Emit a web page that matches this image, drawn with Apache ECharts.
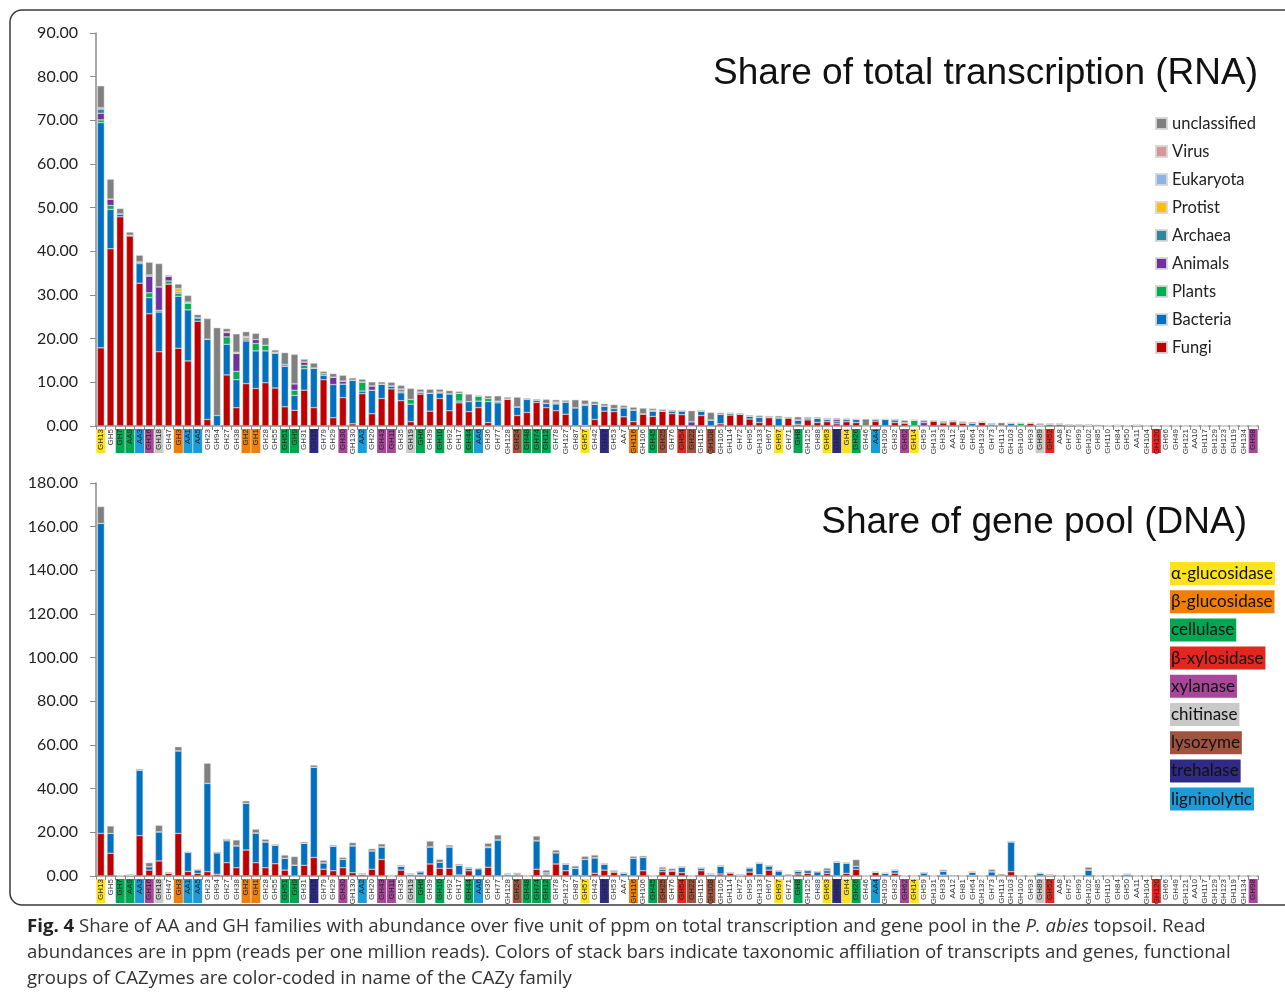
<!DOCTYPE html>
<html><head><meta charset="utf-8">
<script src="https://cdn.jsdelivr.net/npm/echarts@6/dist/echarts.min.js"></script>
<style>html,body{margin:0;padding:0;background:#fff}#c{width:1285px;height:1000px}</style>
</head><body><div id="c"></div>
<script>
const categories = ['GH13','GH5','GH7','AA9','AA3','GH16','GH18','GH47','GH3','AA1',
'AA5','GH23','GH94','GH27','GH38','GH2','GH1','GH28','GH55','GH51',
'GH9','GH31','GH15','GH79','GH29','GH30','GH130','AA2','GH20','GH43',
'GH11','GH35','GH19','GH6','GH39','GH10','GH92','GH17','GH44','AA6',
'GH36','GH77','GH128','GH24','GH48','GH74','GH12','GH78','GH127','GH87',
'GH57','GH42','GH37','GH53','AA7','GH116','GH106','GH45','GH25','GH76',
'GH54','GH22','GH115','GH108','GH105','GH114','GH72','GH95','GH133','GH67',
'GH97','GH71','GH8','GH125','GH88','GH63','GH65','GH4','GH26','GH46',
'AA4','GH109','GH32','GH62','GH14','GH59','GH131','GH33','AA12','GH81',
'GH64','GH132','GH73','GH113','GH103','GH100','GH93','GH89','GH52','AA8',
'GH75','GH99','GH102','GH85','GH110','GH84','GH50','AA11','GH104','GH120',
'GH66','GH49','GH121','AA10','GH117','GH129','GH123','GH119','GH134','GH98'];

const yTicksRNA = {min: 0, max: 90, interval: 10};
const yTicksDNA = {min: 0, max: 180, interval: 20};

// functional groups (label colour code)
const groupAlphaGlucosidase = ['GH13','GH57','GH97','GH63','GH4','GH14'];
const groupBetaGlucosidase = ['GH3','GH2','GH1','GH116'];
const groupCellulase = ['GH7','AA9','GH51','GH9','GH6','GH10','GH44','GH48','GH74','GH12','GH45','GH8','GH26'];
const groupBetaXylosidase = ['GH54','GH52','GH120'];
const groupXylanase = ['GH16','GH30','GH43','GH11','GH62','GH98'];
const groupChitinase = ['GH18','GH19','GH89'];
const groupLysozyme = ['GH24','GH25','GH22','GH108'];
const groupTrehalase = ['GH15','GH37','GH65'];
const groupLigninolytic = ['AA3','AA1','AA5','AA2','AA6','AA4'];
const groupNames = ['α-glucosidase','β-glucosidase','cellulase','β-xylosidase','xylanase','chitinase','lysozyme','trehalase','ligninolytic'];

// RNA (share of total transcription), ppm
const rnaFungi = [17.9,40.6,47.9,43.5,32.7,25.7,17.0,32.5,17.8,14.9, 24.0,1.5,0,11.7,4.2,9.7,8.6,9.9,8.7,4.4, 3.6,8.2,4.2,10.6,1.9,6.5,0.5,7.4,2.8,6.3, 8.5,5.8,1.0,7.3,3.4,6.3,3.5,5.3,3.3,4.2, 0.8,0,6.2,2.4,3.1,5.4,4.2,3.5,2.7,0, 0.1,1.5,3.4,3.3,2.1,1.0,2.8,2.2,3.4,2.8, 2.6,0,2.4,0,0.5,2.5,2.7,1.6,0.8,1.9, 0,1.9,0.4,1.4,0.8,1.0,0.5,1.0,0.8,0, 1.1,0,0.8,0.75,0,0,1.2,0.7,1.0,0.75, 0,0.85,0,0,0,0,0.6,0,0.45,0.45, 0.3,0,0,0,0,0,0,0.15,0,0.06, 0,0,0,0,0,0,0,0,0,0];
const rnaBacteria = [51.6,9.0,0.7,0.2,4.5,3.7,9.1,0,11.9,11.7, 0.8,18.4,2.4,7.0,6.4,9.8,8.6,7.3,8.0,9.3, 3.4,4.9,9.1,1.0,7.6,3.1,10.0,0.6,5.4,3.3, 0.7,1.8,4.0,0.5,4.1,1.3,3.9,0.4,2.3,1.5, 4.8,5.3,0,2.0,3.0,0.6,1.0,1.6,2.8,4.2, 4.6,3.5,1.2,0.7,2.1,2.7,0,1.2,0,0.7, 0.9,0,1.0,1.4,2.2,0.4,0,0.7,1.2,0.2, 1.9,0,1.0,0.5,1.0,0.5,0.5,0.5,0.7,0, 0.4,1.5,0.65,0,0,0,0,0.3,0,0, 0.6,0,0.5,0,0.6,0,0,0.25,0,0, 0,0.3,0.15,0,0,0,0,0,0,0, 0,0,0,0,0,0,0,0,0,0];
const rnaPlants = [0.6,0.9,0,0,0,1.1,0.4,0.7,0.7,1.5, 0,0,0,1.7,1.9,0,1.7,1.3,0,0, 1.2,0.8,0,0.4,0,0,0,2.1,0,0, 0,0.4,1.1,0,0,0,0,1.8,0,1.2, 0.7,0.4,0,0,0,0,0,0,0,0, 0,0,0,0,0,0,0,0,0,0, 0,0,0,0,0,0,0,0,0,0, 0,0,0,0,0,0,0,0,0,0, 0,0,0,0,1.3,0,0,0,0,0, 0,0,0,0,0,0.6,0,0,0,0, 0,0,0,0,0,0,0,0,0,0, 0,0,0,0,0,0,0,0,0,0];
const rnaAnimals = [1.5,1.5,0,0,0.2,3.8,5.4,1.1,0.3,0, 0,0,0,1.0,4.1,0.4,0.9,0,0,0, 1.5,0.8,0,0,1.7,0.7,0,0,1.0,0, 0,0.5,0,0,0,0,0,0,0,0, 0,0,0,0,0,0,0,0,0,0, 0,0,0,0,0,0,0,0.2,0,0, 0,1.0,0,0,0,0,0,0,0,0, 0,0,0,0,0,0.1,0.5,0,0,0, 0,0,0,0,0,0.8,0,0,0.1,0, 0,0,0,0,0,0,0,0,0,0, 0,0,0,0,0,0.15,0,0,0,0, 0,0,0,0,0,0,0,0,0,0];
const rnaArchaea = [1.0,0,0,0,0.2,0.3,0,0,0,0.3, 0,0,0,0,0,0.3,0,0,0.2,0.4, 0,0,0,0,0,0,0,0,0,0, 0,0,0,0,0,0.2,0,0,0,0, 0,0,0,0,0,0,0,0,0,0, 0.3,0,0,0,0,0,0,0,0,0, 0,0,0,0,0,0,0,0,0,0, 0,0,0,0,0,0,0,0,0,0, 0,0,0,0,0,0,0,0,0,0, 0,0,0,0,0,0,0,0,0,0, 0,0,0,0,0,0,0,0,0,0, 0,0,0,0,0,0,0,0,0,0];
const rnaProtist = [0,0,0,0,0,0,0,0,0.8,0, 0,0,0,0.2,0.3,0.3,0,0,0,0, 0,0,0,0,0,0,0,0,0,0, 0,0,0,0,0,0,0,0,0,0, 0,0,0,0,0,0,0,0.4,0,0, 0,0,0,0,0,0,0,0,0,0, 0,0,0,0,0,0,0,0,0,0, 0,0,0,0,0,0,0,0,0,0, 0,0,0,0,0,0,0,0,0,0, 0,0,0,0,0,0,0,0,0,0, 0,0,0,0,0,0,0,0,0,0, 0,0,0,0,0,0,0,0,0,0];
const rnaEukaryota = [0.3,0,0,0,0,0,0,0,0,0, 0,0,0,0,0,0,0,0,0,0, 0,0,0,0,0,0,0,0,0,0, 0,0,0,0,0,0,0,0,0,0, 0,0,0,0,0,0,0,0,0,0, 0,0,0,0,0,0,0,0,0,0, 0,0,0,0,0,0,0,0,0,0, 0,0,0,0,0,0,0,0,0,0, 0,0,0,0,0,0,0,0,0,0, 0,0,0,0,0,0,0,0,0,0, 0,0,0.15,0,0,0,0,0,0,0, 0,0,0,0,0,0,0,0,0,0];
const rnaVirus = new Array(120).fill(0);
const rnaUnclassified = [5.0,4.5,1.2,0.7,1.5,2.9,5.3,0.2,1.0,1.5, 0.7,4.7,20.1,0.7,4.2,1.1,1.4,1.7,0.5,2.7, 6.7,0.6,1.1,0.5,0.8,1.3,0.5,0.6,0.9,0.5, 0.8,0.8,2.5,0.6,0.9,0.6,0.7,0.4,1.7,0.1, 0.6,1.2,0.4,2.2,0.2,0.2,0.9,0.5,0.4,1.8, 0.9,0.6,0.5,0.9,0.5,0.6,1.3,0.4,0.4,0.2, 0,2.5,0,1.7,0.35,0,0.2,0.2,0.4,0.2, 0.4,0.2,0.7,0.2,0.2,0.2,0.3,0.2,0.1,1.6, 0,0,0,0.55,0,0.5,0,0.2,0.1,0.3, 0.3,0,0.2,0.76,0,0,0,0.35,0,0, 0,0,0,0.3,0.15,0,0.15,0,0.08,0, 0.04,0.04,0.04,0.04,0.04,0.04,0.04,0.04,0.04,0.04];

// DNA (share of gene pool), ppm
const dnaFungi = [19.5,10.4,0.1,0.5,18.5,2.7,6.9,1.2,19.5,2.1, 1.2,2.0,0.8,6.1,3.8,11.9,6.1,3.8,5.6,2.7, 0,4.9,8.5,3.1,2.4,3.8,1.5,0.9,3.1,7.6, 0,2.7,0,0.5,5.5,3.5,3.5,0.5,2.4,0, 4.0,0,0,0.5,0,3.1,0.6,5.5,2.4,0, 0,1.2,2.7,1.7,0,0,2.4,0,2.0,2.4, 1.5,0,2.4,0,0.9,1.5,0.5,1.8,0.6,2.7, 0,0,0.9,1.2,0,1.2,0,1.2,3.1,0, 1.7,0,1.3,0,0,0,0,0.4,0,0, 0.3,0,0,0,2.0,0,0,0,0.5,0, 0,0,0,0,0,0,0,0,0,0, 0,0,0,0,0,0,0,0,0,0];
const dnaBacteria = [142.0,9.1,0.1,0,30.0,1.6,13.4,0,37.9,8.7, 1.7,40.4,9.9,10.1,10.1,21.4,13.7,11.9,8.6,5.4, 5.0,10.1,41.3,3.0,11.3,3.8,12.4,0,8.5,5.8, 0,1.9,0.8,1.5,7.9,2.8,9.9,4.5,1.1,3.4, 9.0,16.6,0.8,0.6,0,13.1,0.9,5.2,3.1,3.5, 7.6,7.2,2.8,0.7,1.4,8.1,6.1,0,1.2,0, 2.6,0,1.3,0.8,3.6,0,0,2.0,5.2,2.0, 2.4,0,1.4,1.3,2.0,1.3,6.3,4.8,1.3,0, 0,1.2,1.3,0,0,1.5,0,1.9,0,0, 1.4,0,2.0,0,13.7,0,0,1.2,0,0, 0,0,2.8,0,0,0,0.8,0,0,0, 0,0,0,0,0,0,0,0,0,0];
const dnaPlants = [0,0,0,0,0,0,0,0,0,0, 0,0,0,0,0,0,0,0,0,0, 0,0,0,0,0,0,0,0,0,0, 0,0,0,0,0,0,0,0,0,0, 0.4,0,0,0,0,0,0,0,0,0, 0,0,0,0,0,0,0,0,0,0, 0,0,0,0,0,0,0,0,0,0, 0,0,0,0,0,0,0,0,0,0, 0,0,0,0,0,0,0,0,0,0, 0,0,0,0,0,0,0,0,0,0, 0,0,0,0,0,0,0,0,0,0, 0,0,0,0,0,0,0,0,0,0];
const dnaAnimals = [0,0,0,0,0,0,0,0,0,0, 0,0,0,0,0,0,0,0,0,0, 0,0,0,0,0,0,0,0,0,0, 0.2,0,0,0,0,0,0,0,0,0, 0,0,0,0,0,0,0,0,0,0, 0,0,0,0,0,0,0,0,0,0, 0,0,0,0,0,0,0,0,0,0, 0,0,0,0,0,0,0,0,0,0, 0,0,0,0,0,0,0,0,0,0, 0,0,0,0,0,0,0,0,0,0, 0,0,0,0,0,0,0,0,0,0, 0,0,0,0,0,0,0,0,0,0];
const dnaArchaea = [0,0,0,0,0,0,0,0,0,0, 0,0,0,0.5,0,0,0,0,0,0, 0,0,0,0,0,0,0,0,0,0, 0,0,0,0,0,0,0,0,0,0, 0,0,0,0,0,0,0,0,0,0, 0,0,0,0,0,0,0,0,0,0, 0,0,0,0,0,0,0,0,0,0, 0,0,0,0,0,0,0,0,0,0, 0,0,0,0,0,0,0,0,0,0, 0,0,0,0,0,0,0,0,0,0, 0,0,0,0,0,0,0,0,0,0, 0,0,0,0,0,0,0,0,0,0];
const dnaProtist = new Array(120).fill(0);
const dnaEukaryota = new Array(120).fill(0);
const dnaVirus = new Array(120).fill(0);
const dnaUnclassified = [7.7,3.4,0,0,0.5,1.8,2.9,0.5,1.8,0.3, 0.2,9.2,0.4,0.3,2.6,1.1,1.6,1.1,0.3,1.5, 3.9,0.6,1.0,1.1,0.5,0.9,1.4,0.3,0.9,1.3, 0.3,0.4,0.3,0.3,2.6,1.3,0.8,0.5,0.5,0, 1.6,2.2,0.3,0.4,0.3,2.1,1.2,1.2,0.3,1.1, 1.4,1.2,0.3,0.3,0,0.9,0.7,0,0.9,1.0, 0,0,0,0.3,0.3,0.3,0.3,0.2,0.2,0.3, 0.3,0.8,0.4,0.3,0.2,1.1,0.3,0.3,3.1,0, 0.2,0.2,0.2,0,0,0.1,0,0.6,0.5,0, 0,0,1.0,0.9,0.3,0,0,0,0,0, 0,0.4,1.2,0,0.4,0.4,0,0,0,0.2, 0,0,0,0,0,0,0,0,0,0];

// ---------- styling ----------
const groupDefs = [
  {key:'ag', list:groupAlphaGlucosidase, color:'#FFE31A'},
  {key:'bg', list:groupBetaGlucosidase, color:'#F07F09'},
  {key:'ce', list:groupCellulase, color:'#00A651'},
  {key:'bx', list:groupBetaXylosidase, color:'#E5261F'},
  {key:'xy', list:groupXylanase, color:'#A8469A'},
  {key:'ch', list:groupChitinase, color:'#C9C9C9'},
  {key:'ly', list:groupLysozyme, color:'#A0533E'},
  {key:'tr', list:groupTrehalase, color:'#2E2A86'},
  {key:'li', list:groupLigninolytic, color:'#1B9BD7'}
];
const groupOf = {};
groupDefs.forEach(g => g.list.forEach(c => groupOf[c] = g.key));
const rich = {n:{fontSize:8, fontFamily:'Liberation Sans', color:'#333', width:24, height:9, lineHeight:9, align:'right'}};
groupDefs.forEach(g => {
  rich[g.key] = {fontSize:8, fontFamily:'Liberation Sans', color:'#222', width:24, height:9, lineHeight:9, align:'right', backgroundColor:g.color};
});

const taxa = [
  {name:'Fungi', color:'#C00000', rna:rnaFungi, dna:dnaFungi},
  {name:'Bacteria', color:'#0070C0', rna:rnaBacteria, dna:dnaBacteria},
  {name:'Plants', color:'#00B050', rna:rnaPlants, dna:dnaPlants},
  {name:'Animals', color:'#7030A0', rna:rnaAnimals, dna:dnaAnimals},
  {name:'Archaea', color:'#31859C', rna:rnaArchaea, dna:dnaArchaea},
  {name:'Protist', color:'#FFC000', rna:rnaProtist, dna:dnaProtist},
  {name:'Eukaryota', color:'#8EB4E3', rna:rnaEukaryota, dna:dnaEukaryota},
  {name:'Virus', color:'#D99694', rna:rnaVirus, dna:dnaVirus},
  {name:'unclassified', color:'#808080', rna:rnaUnclassified, dna:dnaUnclassified}
];

const series = [];
taxa.forEach(t => {
  const common = {type:'bar', name:t.name, barWidth:'72%', itemStyle:{color:t.color, borderColor:'rgba(215,215,215,0.9)', borderWidth:0.5}};
  series.push(Object.assign({}, common, {stack:'rna', xAxisIndex:0, yAxisIndex:0, data:t.rna}));
  series.push(Object.assign({}, common, {stack:'dna', xAxisIndex:1, yAxisIndex:1, data:t.dna}));
});

function xAxis(idx){
  return {type:'category', gridIndex:idx, data:categories,
    axisLine:{lineStyle:{color:'#8a8a8a', width:1.5}},
    axisTick:{show:true, interval:0, length:4, lineStyle:{color:'#8a8a8a'}},
    axisLabel:{interval:0, rotate:90, margin:3, rich:rich,
      formatter: v => '{' + (groupOf[v] || 'n') + '|' + v + '}'}};
}
function yAxis(idx, t){
  return {type:'value', gridIndex:idx, min:t.min, max:t.max, interval:t.interval,
    splitLine:{show:false},
    axisLine:{show:true, lineStyle:{color:'#8a8a8a', width:1.5}},
    axisTick:{show:true, length:6, lineStyle:{color:'#8a8a8a'}},
    axisLabel:{margin:18, fontSize:16, fontFamily:'Lato', color:'#222', formatter: v => v.toFixed(2)}};
}

const legendBoxes = groupNames.map((name, i) => ({
  type:'text', left:1170, top: 562 + i*28.2,
  style:{text:name, font:'17px Lato', fill:'#111', backgroundColor:groupDefs[i].color, padding:[3,2,3,1]}
}));

const captionRich = {b:{fontWeight:'bold', fontSize:18.6, fontFamily:'Open Sans', fill:'#222'}, i:{fontStyle:'italic', fontSize:18.6, fontFamily:'Open Sans', fill:'#333'}};

const option = {
  animation:false,
  backgroundColor:'#fff',
  grid:[
    {left:96, top:33, width:1162, height:393},
    {left:96, top:483, width:1162, height:393}
  ],
  xAxis:[xAxis(0), xAxis(1)],
  yAxis:[yAxis(0, yTicksRNA), yAxis(1, yTicksDNA)],
  legend:{orient:'vertical', left:1155, top:115, itemWidth:11, itemHeight:11, itemGap:11, padding:0, icon:'rect',
    textStyle:{fontSize:16.5, fontFamily:'Lato', color:'#222', lineHeight:16, height:16},
    data:['unclassified','Virus','Eukaryota','Protist','Archaea','Animals','Plants','Bacteria','Fungi']},
  series:series,
  graphic:[
    {type:'rect', silent:true, z:-10, shape:{x:10, y:10, width:1300, height:895, r:12}, style:{fill:'none', stroke:'#3a3a3a', lineWidth:1.5}},
    {type:'text', silent:true, style:{text:'Share of total transcription (RNA)', x:1258, y:74, textAlign:'right', textVerticalAlign:'middle', font:'37px "Liberation Sans"', fill:'#111'}},
    {type:'text', silent:true, style:{text:'Share of gene pool (DNA)', x:1247, y:523, textAlign:'right', textVerticalAlign:'middle', font:'37px "Liberation Sans"', fill:'#111'}},
    ...legendBoxes,
    {type:'text', silent:true, style:{x:27, y:927, textVerticalAlign:'middle', font:'18.6px "Open Sans"', fill:'#333',
      text:'{b|Fig. 4} Share of AA and GH families with abundance over five unit of ppm on total transcription and gene pool in the {i|P. abies} topsoil. Read',
      rich:captionRich}},
    {type:'text', silent:true, style:{x:27, y:953, textVerticalAlign:'middle', font:'18.6px "Open Sans"', fill:'#333',
      text:'abundances are in ppm (reads per one million reads). Colors of stack bars indicate taxonomic affiliation of transcripts and genes, functional'}},
    {type:'text', silent:true, style:{x:27, y:979, textVerticalAlign:'middle', font:'18.6px "Open Sans"', fill:'#333',
      text:'groups of CAZymes are color-coded in name of the CAZy family'}}
  ]
};
const chart = echarts.init(document.getElementById('c'), null, {renderer:'canvas'});
chart.setOption(option);
</script></body></html>
